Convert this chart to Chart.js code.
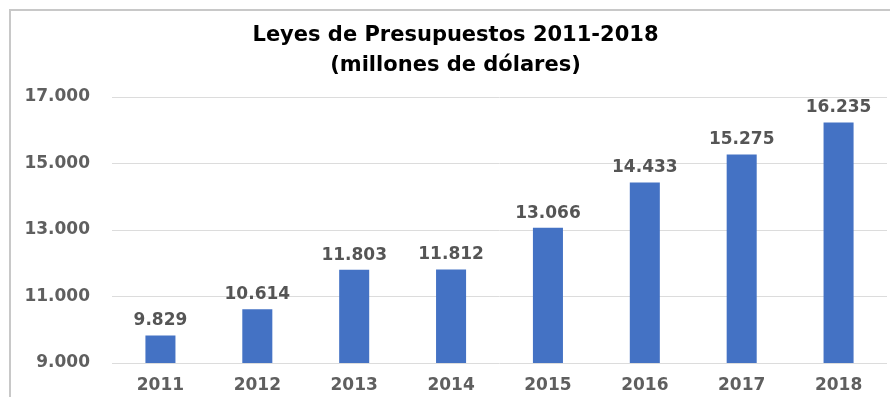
<!DOCTYPE html>
<html>
<head>
<meta charset="utf-8">
<script src="https://cdn.jsdelivr.net/npm/chart.js@4"></script>
<style>
  html, body { margin: 0; padding: 0; background: #fff; }
  #wrap {
    position: relative;
    width: 890px;
    height: 397px;
    overflow: hidden;
  }
  #frame {
    position: absolute;
    left: 9px;
    top: 9px;
    width: 881px;
    height: 388px;
    border-left: 2px solid #c8c8c8;
    border-top: 2px solid #c8c8c8;
    box-sizing: border-box;
  }
  canvas { position: absolute; left: 0; top: 0; }
</style>
</head>
<body>
<div id="wrap">
  <div id="frame"></div>
  <canvas id="budgetChart" width="890" height="397"></canvas>
</div>
<script>
// Chart data
const years = ['2011', '2012', '2013', '2014', '2015', '2016', '2017', '2018'];
const budgets = [9829, 10614, 11803, 11812, 13066, 14433, 15275, 16235];
const titleLines = ['Leyes de Presupuestos 2011-2018', '(millones de dólares)'];
const yMin = 9000;
const yMax = 17000;
const yStep = 2000;

// Spanish style thousands separator: 16.235
function formatThousands(value) {
    return String(Math.round(value)).replace(/\B(?=(\d{3})+(?!\d))/g, '.');
}

// Simple value labels above each bar
const barValueLabels = {
    id: 'barValueLabels',
    afterDatasetsDraw(chart) {
        const ctx = chart.ctx;
        const meta = chart.getDatasetMeta(0);
        ctx.save();
        ctx.font = 'bold 17px "DejaVu Sans"';
        ctx.fillStyle = '#555555';
        ctx.textAlign = 'center';
        ctx.textBaseline = 'bottom';
        meta.data.forEach(function(bar, i) {
            ctx.fillText(formatThousands(chart.data.datasets[0].data[i]), bar.x, bar.y - 6);
        });
        ctx.restore();
    }
};

const ctx = document.getElementById('budgetChart').getContext('2d');
new Chart(ctx, {
    type: 'bar',
    data: {
        labels: years,
        datasets: [{
            label: 'Presupuesto',
            data: budgets,
            backgroundColor: '#4472C4',
            borderWidth: 0,
            categoryPercentage: 1,
            barPercentage: 0.31
        }]
    },
    options: {
        responsive: false,
        animation: false,
        layout: {
            // left padding keeps the title centred over the plot like the original
            padding: { left: 24, right: 3, top: 0, bottom: 0 }
        },
        scales: {
            x: {
                grid: { display: false, drawTicks: false },
                border: { display: false },
                ticks: {
                    padding: 12,
                    color: '#5f5f5f',
                    font: { family: '"DejaVu Sans"', size: 17, weight: 'bold' }
                },
                afterFit(axis) { axis.height = 34; }
            },
            y: {
                min: yMin,
                max: yMax,
                grid: { color: '#dcdcdc', lineWidth: 1, drawTicks: false },
                border: { display: false },
                ticks: {
                    stepSize: yStep,
                    padding: 22,
                    color: '#5f5f5f',
                    font: { family: '"DejaVu Sans"', size: 17, weight: 'bold' },
                    callback: function(value) { return formatThousands(value); }
                },
                afterFit(axis) { axis.width = 88; }
            }
        },
        plugins: {
            legend: { display: false },
            tooltip: { enabled: false },
            title: {
                display: true,
                text: titleLines,
                color: '#000',
                font: { family: '"DejaVu Sans"', size: 21, weight: 'bold', lineHeight: 1.43 },
                padding: { top: 21, bottom: 16 }
            }
        }
    },
    plugins: [barValueLabels]
});
</script>
</body>
</html>
